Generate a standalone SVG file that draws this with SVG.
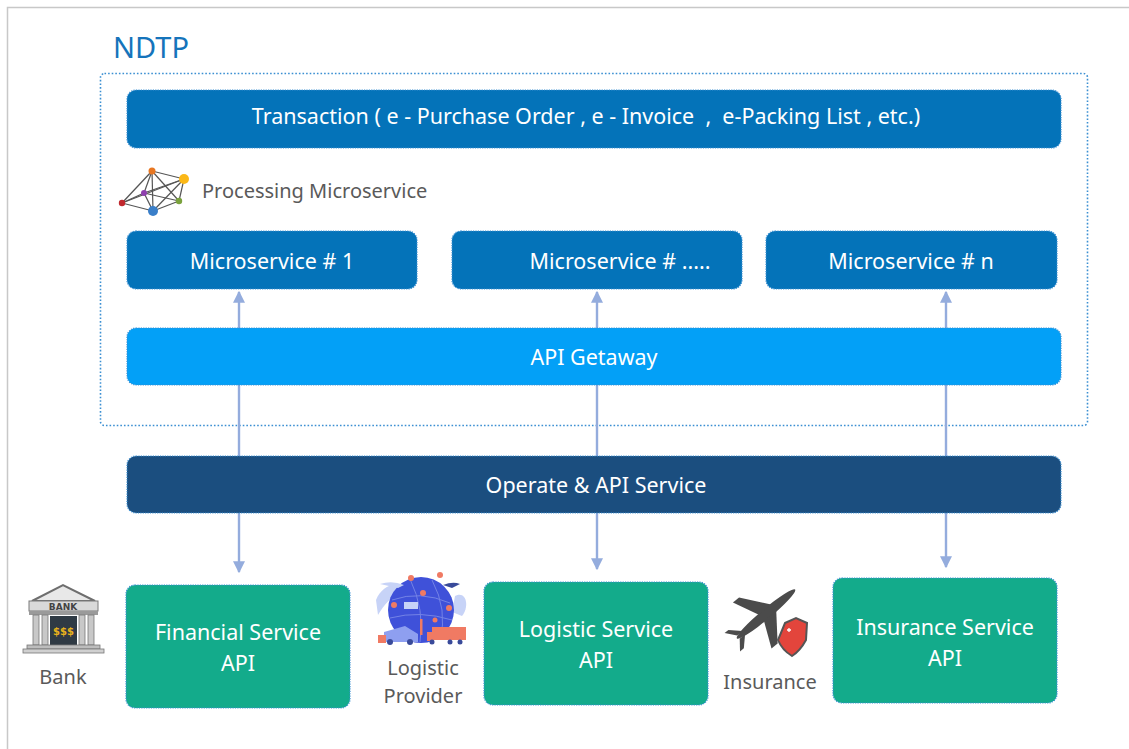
<svg xmlns="http://www.w3.org/2000/svg" width="1129" height="749" viewBox="0 0 1129 749">
  <defs>
    <style>
      .frame { fill: none; stroke: #c8c8c8; stroke-width: 1.5; }
      .container { fill: none; stroke: #3b8fd2; stroke-width: 1.6; stroke-dasharray: 1.6 2; }
      .box { stroke: #3b8fd2; stroke-width: 1.2; stroke-dasharray: 1.2 1.2; }
      .dark { fill: #0473b9; }
      .gateway { fill: #03a0f7; }
      .operate { fill: #1b4e7f; }
      .green { fill: #13ab8b; }
      .lbl { font-family: "Noto Sans", "Open Sans", sans-serif; fill: #ffffff; font-size: 21.5px; text-anchor: middle; dominant-baseline: central; }
      .side { font-family: "Noto Sans", "Open Sans", sans-serif; fill: #5a5a5a; font-size: 20px; text-anchor: middle; }
      .link { stroke: #94acdd; stroke-width: 2.4; fill: none; }
      .net { stroke: #555555; stroke-width: 1.2; }
    </style>
    <marker id="arrow" viewBox="0 0 10 10" refX="9" refY="5" markerWidth="5" markerHeight="5" orient="auto-start-reverse" markerUnits="strokeWidth">
      <path d="M0,0 L10,5 L0,10 Z" fill="#94acdd"/>
    </marker>
  </defs>

  <rect width="1129" height="749" fill="#ffffff"/>
  <!-- page frame (top and left edges) -->
  <path class="frame" d="M7.5,749 V7.5 H1129"/>

  <!-- title -->
  <text x="113" y="58" font-family="Noto Sans, Open Sans, sans-serif" font-size="29" fill="#1574bb">NDTP</text>

  <!-- dotted platform container -->
  <rect class="container" x="100.5" y="73.5" width="987" height="352" rx="4"/>

  <!-- connectors (drawn beneath the boxes) -->
  <g id="connectors">
    <line class="link" x1="239" y1="456" x2="239" y2="292" marker-end="url(#arrow)"/>
    <line class="link" x1="597" y1="456" x2="597" y2="292" marker-end="url(#arrow)"/>
    <line class="link" x1="946" y1="456" x2="946" y2="292" marker-end="url(#arrow)"/>
    <line class="link" x1="239" y1="513" x2="239" y2="572" marker-end="url(#arrow)"/>
    <line class="link" x1="597" y1="513" x2="597" y2="569" marker-end="url(#arrow)"/>
    <line class="link" x1="946" y1="513" x2="946" y2="567" marker-end="url(#arrow)"/>
  </g>

  <g id="transaction">
    <rect class="box dark" x="127" y="90" width="934" height="58" rx="9"/>
    <text class="lbl" x="586" y="115" style="white-space:pre">Transaction ( e - Purchase Order , e - Invoice  ,  e-Packing List , etc.)</text>
  </g>

  <g id="processing">
    <g class="net">
      <line x1="152" y1="171" x2="184" y2="179"/>
      <line x1="152" y1="171" x2="144" y2="193"/>
      <line x1="152" y1="171" x2="179" y2="201"/>
      <line x1="152" y1="171" x2="122" y2="203"/>
      <line x1="152" y1="171" x2="153" y2="211"/>
      <line x1="184" y1="179" x2="144" y2="193"/>
      <line x1="184" y1="179" x2="179" y2="201"/>
      <line x1="184" y1="179" x2="122" y2="203"/>
      <line x1="184" y1="179" x2="153" y2="211"/>
      <line x1="144" y1="193" x2="179" y2="201"/>
      <line x1="144" y1="193" x2="122" y2="203"/>
      <line x1="144" y1="193" x2="153" y2="211"/>
      <line x1="122" y1="203" x2="153" y2="211"/>
      <line x1="179" y1="201" x2="153" y2="211"/>
    </g>
    <circle cx="152" cy="171" r="3.5" fill="#e87722"/>
    <circle cx="184" cy="179" r="5" fill="#fbb818"/>
    <circle cx="144" cy="193" r="3" fill="#8e3fae"/>
    <circle cx="179" cy="201" r="3.2" fill="#7aa23d"/>
    <circle cx="122" cy="203" r="3.2" fill="#c0272d"/>
    <circle cx="153" cy="211" r="5" fill="#3a7fc9"/>
    <text x="202" y="198" font-family="Noto Sans, Open Sans, sans-serif" font-size="20" fill="#5a5a5a">Processing Microservice</text>
  </g>

  <g id="ms1">
    <rect class="box dark" x="127" y="231" width="290" height="58" rx="9"/>
    <text class="lbl" x="272" y="260">Microservice # 1</text>
  </g>
  <g id="ms2">
    <rect class="box dark" x="452" y="231" width="290" height="58" rx="9"/>
    <text class="lbl" x="620" y="260">Microservice # .....</text>
  </g>
  <g id="msn">
    <rect class="box dark" x="766" y="231" width="291" height="58" rx="9"/>
    <text class="lbl" x="911" y="260">Microservice # n</text>
  </g>

  <g id="gateway">
    <rect class="box gateway" x="127" y="328" width="934" height="57" rx="9"/>
    <text class="lbl" x="594" y="356">API Getaway</text>
  </g>

  <g id="operate">
    <rect class="box operate" x="127" y="456" width="934" height="57" rx="9"/>
    <text class="lbl" x="596" y="484">Operate &amp; API Service</text>
  </g>

  <g id="financial">
    <rect class="box green" x="126" y="585" width="224" height="123" rx="9"/>
    <text class="lbl" x="238" y="631">Financial Service</text>
    <text class="lbl" x="238" y="662">API</text>
  </g>
  <g id="logistic">
    <rect class="box green" x="484" y="582" width="224" height="123" rx="9"/>
    <text class="lbl" x="596" y="628">Logistic Service</text>
    <text class="lbl" x="596" y="659">API</text>
  </g>
  <g id="insurance">
    <rect class="box green" x="833" y="578" width="224" height="125" rx="9"/>
    <text class="lbl" x="945" y="626">Insurance Service</text>
    <text class="lbl" x="945" y="657">API</text>
  </g>

  <!-- bank -->
  <g id="bank">
    <path d="M32,601 L63,585 L95,601 Z" fill="#e8e8e8" stroke="#6e6e6e" stroke-width="2"/>
    <rect x="29" y="601" width="69" height="10" fill="#d9d9d9" stroke="#7a7a7a" stroke-width="1"/>
    <text x="63" y="609.5" font-family="DejaVu Sans, sans-serif" font-weight="bold" font-size="9" fill="#444" text-anchor="middle">BANK</text>
    <rect x="29" y="611" width="69" height="4" fill="#9a9a9a"/>
    <rect x="33" y="615" width="6" height="30" fill="#c8c8c8" stroke="#777" stroke-width="0.8"/>
    <rect x="42" y="615" width="6" height="30" fill="#c8c8c8" stroke="#777" stroke-width="0.8"/>
    <rect x="79" y="615" width="6" height="30" fill="#c8c8c8" stroke="#777" stroke-width="0.8"/>
    <rect x="88" y="615" width="6" height="30" fill="#c8c8c8" stroke="#777" stroke-width="0.8"/>
    <rect x="50" y="616" width="27" height="29" fill="#2f3a44"/>
    <text x="63.5" y="635" font-family="DejaVu Sans, sans-serif" font-weight="bold" font-size="10" fill="#e7b21c" text-anchor="middle">$$$</text>
    <rect x="27" y="645" width="73" height="4" fill="#bdbdbd" stroke="#777" stroke-width="0.8"/>
    <rect x="23" y="649" width="81" height="4" fill="#d0d0d0" stroke="#777" stroke-width="0.8"/>
    <text class="side" x="63" y="684">Bank</text>
  </g>

  <!-- logistic provider -->
  <g id="provider">
    <path d="M376,600 C382,585 398,580 404,590 C392,595 384,605 378,615 Z" fill="#c7d3f7"/>
    <path d="M455,596 C466,590 470,606 462,616 L452,612 Z" fill="#c7d3f7"/>
    <circle cx="421" cy="610" r="33" fill="#3f51d9"/>
    <path d="M392,600 Q420,590 450,603 M390,618 Q420,610 452,620 M410,579 Q425,610 420,642 M432,580 Q448,610 440,640" stroke="#7483e6" stroke-width="1" fill="none"/>
    <path d="M380,584 Q392,580 404,585 L398,588 Z" fill="#c7d3f7"/>
    <path d="M443,585 Q453,581 460,584 L452,588 Z" fill="#394a9a"/>
    <rect x="404" y="602" width="14" height="7" fill="#c7d3f7"/>
    <g fill="#f07a63">
      <circle cx="411" cy="578" r="3"/>
      <circle cx="440" cy="575" r="3"/>
      <circle cx="423" cy="593" r="3"/>
      <circle cx="394" cy="605" r="3"/>
      <circle cx="449" cy="608" r="3"/>
      <circle cx="435" cy="620" r="2.5"/>
    </g>
    <path d="M384,632 L405,626 L418,634 L418,642 L384,642 Z" fill="#8e9ff0"/>
    <circle cx="390" cy="642" r="3" fill="#394a9a"/>
    <circle cx="410" cy="642" r="3" fill="#394a9a"/>
    <rect x="378" y="635" width="8" height="8" fill="#f07a63"/>
    <rect x="420" y="619" width="2.5" height="16" fill="#f07a63"/>
    <rect x="432" y="627" width="34" height="13" fill="#f07a63"/>
    <rect x="427" y="632" width="7" height="9" fill="#f07a63"/>
    <circle cx="432" cy="642" r="2.5" fill="#394a9a"/>
    <circle cx="450" cy="642" r="2.5" fill="#394a9a"/>
    <circle cx="460" cy="642" r="2.5" fill="#394a9a"/>
    <text class="side" x="423" y="675">Logistic</text>
    <text class="side" x="423" y="703">Provider</text>
  </g>

  <!-- insurance -->
  <g id="insurer">
    <g fill="#4b4b4b" transform="rotate(-40 766 614)">
      <ellipse cx="766" cy="614" rx="38" ry="5"/>
      <path d="M760,610 L748,584 L756,584 L776,610 Z"/>
      <path d="M760,618 L748,644 L756,644 L776,618 Z"/>
      <path d="M730,612 L722,602 L727,602 L737,612 Z"/>
      <path d="M730,616 L722,626 L727,626 L737,616 Z"/>
    </g>
    <path d="M785,623 L796,618 L807,623 L806,640 Q800,651 792,656 Q782,650 778,640 Z" fill="#e3453c" stroke="#555" stroke-width="2"/>
    <path d="M787,630 L791,630 M789,628 L789,632" stroke="#fff" stroke-width="1.3"/>
    <text class="side" x="770" y="689">Insurance</text>
  </g>
</svg>
